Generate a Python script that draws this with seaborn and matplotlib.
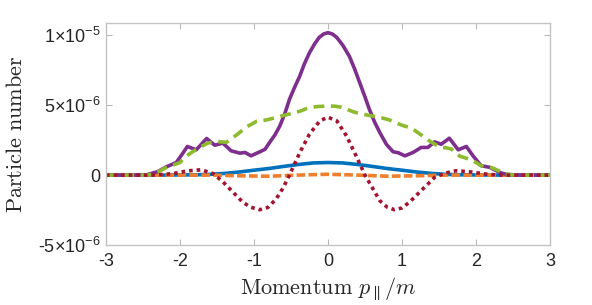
import numpy as np
import pandas as pd
import matplotlib
matplotlib.use("Agg")
import matplotlib.pyplot as plt
import seaborn as sns

# --- data (values in units of 1e-6) ---
p_total = [-3.0, -2.6, -2.45, -2.3, -2.18, -2.05, -1.97, -1.90, -1.78, -1.64, -1.53, -1.42,
           -1.31, -1.19, -1.12, -1.04, -0.92, -0.85, -0.79, -0.72, -0.65, -0.58, -0.52,
           -0.45, -0.38, -0.32, -0.25, -0.18, -0.12, -0.06, 0.0, 0.06, 0.12, 0.2, 0.29,
           0.36, 0.43, 0.5, 0.56, 0.63, 0.70, 0.79, 0.88, 0.95, 1.04, 1.15, 1.26, 1.35,
           1.44, 1.53, 1.64, 1.76, 1.87, 1.96, 2.07, 2.19, 2.32, 2.41, 2.6, 3.0]
n_total = [0.0, 0.0, 0.02, 0.25, 0.6, 0.9, 1.5, 2.05, 1.81, 2.62, 2.14, 2.29,
           1.74, 1.57, 1.62, 1.38, 1.67, 1.85, 2.33, 2.85, 3.52, 4.45, 5.43,
           6.3, 7.1, 7.95, 8.76, 9.4, 9.85, 10.1, 10.2, 10.1, 9.85, 9.3, 8.5,
           7.6, 6.6, 5.6, 4.7, 3.8, 3.05, 2.2, 1.67, 1.6, 1.38, 1.62, 1.98, 1.98,
           2.38, 2.21, 2.64, 1.81, 2.05, 1.38, 0.67, 0.55, 0.19, 0.05, 0.0, 0.0]

p_green = [-3.0, -2.5, -2.36, -2.2, -2.0, -1.93, -1.85, -1.73, -1.62, -1.49, -1.37, -1.23,
           -1.10, -0.96, -0.83, -0.65, -0.5, -0.38, -0.29, -0.16, 0.0, 0.1, 0.18, 0.36,
           0.53, 0.70, 0.83, 1.0, 1.13, 1.28, 1.37, 1.51, 1.60, 1.67, 1.78, 1.91, 2.0,
           2.07, 2.22, 2.35, 2.45, 2.6, 3.0]
n_green = [0.0, 0.0, 0.05, 0.5, 0.9, 1.3, 1.6, 2.0, 2.3, 2.4, 2.35, 2.9,
           3.45, 3.86, 3.95, 4.2, 4.4, 4.57, 4.76, 4.9, 4.95, 4.93, 4.86, 4.5,
           4.3, 4.14, 3.95, 3.57, 3.36, 2.8, 2.45, 2.0, 1.95, 1.86, 1.36, 1.14, 0.9,
           0.67, 0.52, 0.2, 0.02, 0.0, 0.0]

p_red = [-3.0, -2.4, -2.2, -2.05, -1.9, -1.71, -1.55, -1.42, -1.28, -1.15, -1.04, -0.92,
         -0.81, -0.70, -0.61, -0.52, -0.38, -0.25, -0.11, 0.0, 0.12, 0.25, 0.38, 0.5,
         0.61, 0.70, 0.80, 0.90, 1.0, 1.10, 1.28, 1.44, 1.58, 1.73, 1.91, 2.14, 2.3, 3.0]
n_red = [0.0, 0.0, 0.05, 0.15, 0.3, 0.38, 0.1, -0.48, -1.24, -1.95, -2.31, -2.48,
         -2.31, -1.71, -0.95, 0.0, 1.62, 2.93, 3.88, 4.15, 3.88, 2.81, 1.38, 0.0,
         -1.0, -1.83, -2.3, -2.48, -2.35, -1.95, -1.0, -0.17, 0.14, 0.31, 0.24, 0.07, 0.0, 0.0]

p_blue = [-3.0, -2.2, -2.0, -1.8, -1.6, -1.4, -1.2, -1.0, -0.8, -0.6, -0.4, -0.2, 0.0,
          0.2, 0.4, 0.6, 0.8, 1.0, 1.2, 1.4, 1.6, 1.8, 2.0, 2.2, 3.0]
n_blue = [0.0, 0.0, 0.01, 0.02, 0.05, 0.12, 0.22, 0.35, 0.47, 0.62, 0.76, 0.87, 0.9,
          0.87, 0.76, 0.62, 0.47, 0.35, 0.22, 0.12, 0.05, 0.02, 0.01, 0.0, 0.0]

p_orange = [-3.0, -1.6, -1.2, -0.8, -0.4, 0.0, 0.4, 0.8, 1.2, 1.6, 3.0]
n_orange = [0.0, 0.0, -0.05, -0.08, 0.0, 0.06, 0.0, -0.08, -0.05, 0.0, 0.0]

yticks = [-5e-6, 0, 5e-6, 1e-5]
ytick_labels = [r"-5$\times$10$^{-6}$", "0", r"5$\times$10$^{-6}$", r"1$\times$10$^{-5}$"]
xticks = [-3, -2, -1, 0, 1, 2, 3]

# --- style ---
sns.set_theme(style="white")
plt.rcParams["font.family"] = ["Liberation Sans", "DejaVu Sans"]
plt.rcParams["mathtext.fontset"] = "custom"
plt.rcParams["mathtext.rm"] = "Liberation Sans"
plt.rcParams["mathtext.it"] = "Liberation Sans:italic"
plt.rcParams["axes.unicode_minus"] = False

fig = plt.figure(figsize=(5.92, 3.05), dpi=100)
ax = fig.add_axes([0.179, 0.197, 0.750, 0.728])

lw = 2.6
series = [
    (p_blue, n_blue, "#0072BD", "-", None),
    (p_orange, n_orange, "#EE7F2D", "--", (2.4, 0.9)),
    (p_total, n_total, "#7E2F8E", "-", None),
    (p_green, n_green, "#8DBA2E", "--", (3.0, 1.8)),
    (p_red, n_red, "#A2142F", ":", (1.0, 1.1)),
]
for px, nv, col, ls, dash in series:
    df = pd.DataFrame({"p": px, "n": np.array(nv) * 1e-6})
    sns.lineplot(data=df, x="p", y="n", ax=ax, color=col, linewidth=lw,
                 linestyle=ls, sort=False)
    l = ax.lines[-1]
    if dash is not None:
        l.set_dashes(dash)
    l.set_solid_joinstyle("round")

ax.set_xlim(-3, 3)
ax.set_ylim(-5e-6, 1.09e-5)
ax.set_xticks(xticks)
ax.set_xticklabels([str(t) for t in xticks])
ax.set_yticks(yticks)
ax.set_yticklabels(ytick_labels)

for s in ax.spines.values():
    s.set_color("#C4C4C4")
    s.set_linewidth(1.0)
ax.tick_params(direction="in", bottom=True, left=True, top=True, right=True,
               length=4, width=0.8, color="#B8B8B8", labelsize=13,
               labelcolor="#262626", pad=4)
ax.tick_params(axis="x", pad=6)

ax.set_xlabel(r"$\mathrm{Momentum}\ p_{\parallel}/m$", fontsize=16,
              math_fontfamily="cm", color="#262626", labelpad=4)
ax.set_ylabel(r"$\mathrm{Particle\ number}$", fontsize=16,
              math_fontfamily="cm", color="#262626", labelpad=8)

fig.savefig("out.png", dpi=100)
